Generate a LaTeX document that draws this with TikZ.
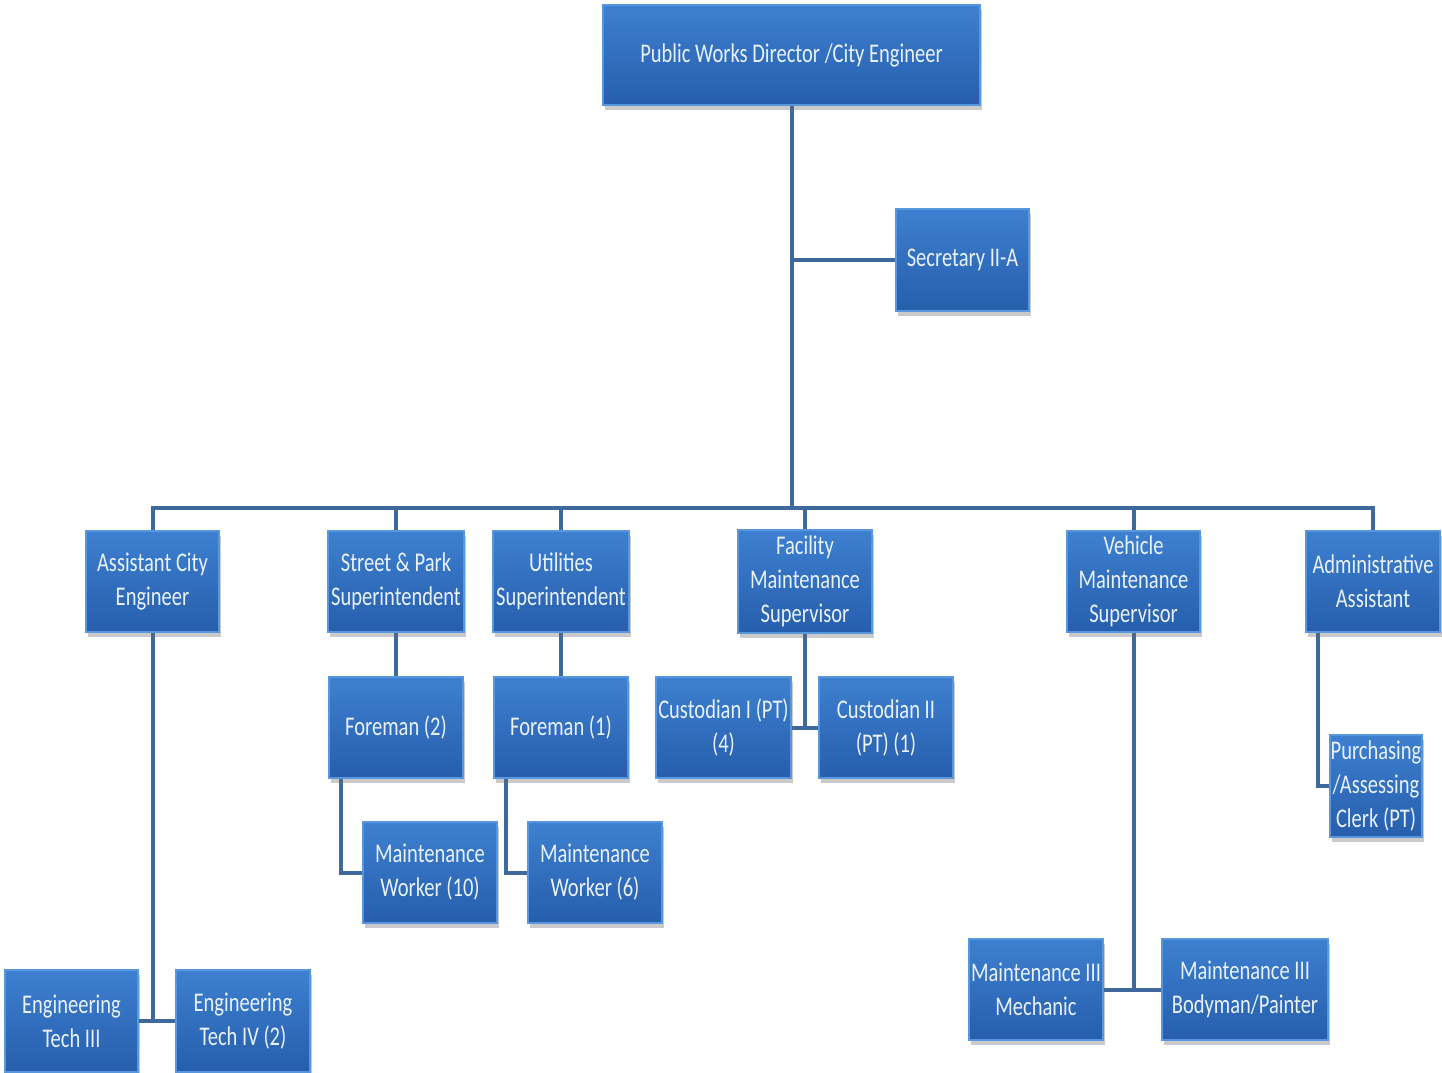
\documentclass[tikz,border=0pt]{standalone}
\usepackage{fontspec}
\setmainfont{Carlito}[FakeStretch=0.76]
\usetikzlibrary{shadows,backgrounds}
\definecolor{boxtop}{RGB}{62,128,208}
\definecolor{boxbot}{RGB}{38,94,172}
\definecolor{boxedge}{RGB}{88,150,222}
\definecolor{linec}{RGB}{63,104,156}
\definecolor{txt}{RGB}{232,242,252}
\tikzset{
  pxunits/.style={x=1pt,y=-1pt},
  box/.style={rectangle, inner sep=0pt, align=center,
    top color=boxtop, bottom color=boxbot, draw=boxedge, line width=1.5pt,
    text=txt, font=\fontsize{27}{34}\selectfont,
    drop shadow={shadow xshift=2pt, shadow yshift=-5pt, opacity=0.35, fill=black!60},
    minimum height=101pt},
  conn/.style={draw=linec, line width=4pt}
}
\begin{document}
\begin{tikzpicture}[pxunits]
\useasboundingbox (0,0) rectangle (1442,1072);
\node[box, minimum width=377pt, minimum height=100pt] (dir) at (791.5,55) {Public Works Director /City Engineer};
\node[box, minimum width=133pt, minimum height=102pt] (sec) at (962.5,260) {Secretary II-A};
\coordinate (bus) at (791.5,508);

\node[box, minimum width=133pt] (ace) at (152.5,581.5) {Assistant City\\Engineer};
\node[box, minimum width=136pt] (sp) at (396,581.5) {Street \& Park\\Superintendent};
\node[box, minimum width=136pt] (ut) at (561,581.5) {Utilities\\Superintendent};
\node[box, minimum width=134pt, minimum height=103pt] (fac) at (805,581.5) {Facility\\Maintenance\\Supervisor};
\node[box, minimum width=133pt] (veh) at (1133.5,581.5) {Vehicle\\Maintenance\\Supervisor};
\node[box, minimum width=134pt] (adm) at (1373,581.5) {Administrative\\Assistant};

\node[box, minimum width=134pt] (f2) at (396,727.5) {Foreman (2)};
\node[box, minimum width=134pt] (f1) at (561,727.5) {Foreman (1)};
\node[box, minimum width=134pt] (mw10) at (430,872.5) {Maintenance\\Worker (10)};
\node[box, minimum width=134pt] (mw6) at (595,872.5) {Maintenance\\Worker (6)};
\node[box, minimum width=135pt] (c1) at (723.5,727.5) {Custodian I (PT)\\(4)};
\node[box, minimum width=134pt] (c2) at (886,727.5) {Custodian II\\(PT) (1)};
\node[box, minimum width=92pt, minimum height=102pt] (clerk) at (1376,786) {Purchasing\\/Assessing\\Clerk (PT)};
\node[box, minimum width=134pt] (mech) at (1036,989.5) {Maintenance III\\Mechanic};
\node[box, minimum width=166pt] (body) at (1245,989.5) {Maintenance III\\Bodyman/Painter};
\node[box, minimum width=133pt, minimum height=102pt] (et3) at (71.5,1021) {Engineering\\Tech III};
\node[box, minimum width=134pt, minimum height=102pt] (et4) at (243,1021) {Engineering\\Tech IV (2)};

\begin{scope}[on background layer]
\draw[conn] (dir.south) -- (bus);
\draw[conn] (sec.west) -- (sec.west -| dir.south);
\foreach \n in {ace,sp,ut,fac,veh,adm} {\draw[conn] (\n.north) |- (bus);}
\draw[conn] (sp.south) -- (f2.north);
\draw[conn] (ut.south) -- (f1.north);
\draw[conn] ([xshift=13pt]f2.south west) |- (mw10.west);
\draw[conn] ([xshift=13pt]f1.south west) |- (mw6.west);
\draw[conn] (fac.south) -- (fac.south |- c1.east);
\draw[conn] (c1.east) -- (c2.west);
\draw[conn] ([xshift=13pt]adm.south west) |- (clerk.west);
\draw[conn] (veh.south) -- (veh.south |- mech.east);
\draw[conn] (mech.east) -- (body.west);
\draw[conn] (ace.south) -- (ace.south |- et3.east);
\draw[conn] (et3.east) -- (et4.west);
\end{scope}
\end{tikzpicture}
\end{document}
